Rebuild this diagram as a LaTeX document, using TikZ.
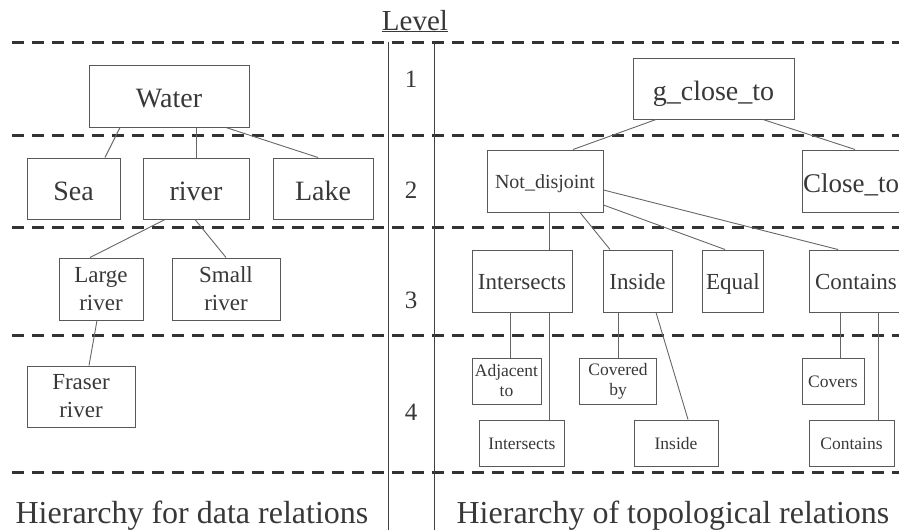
\documentclass[tikz,border=0pt]{standalone}
\usepackage{fontspec}
\setmainfont{Liberation Serif}
\usepackage{xcolor}
\usepackage{tikz}
\usetikzlibrary{positioning}

\begin{document}
\begin{tikzpicture}[x=1pt,y=-1pt,
  box2/.style={draw=boxline,line width=1pt,inner sep=0pt,align=center,text=ink},
  box/.style={box2,text depth=0pt},
  link/.style={draw=linkline,line width=.9pt},
  band/.style={draw=bandline,line width=3pt,dash pattern=on 12pt off 8pt},
  big/.style={font=\fontsize{28}{30}\selectfont,text height=23pt},
  mid/.style={font=\fontsize{23}{28}\selectfont,text height=16pt},
  tiny/.style={font=\fontsize{17.5}{20}\selectfont,text height=13pt}]
\colorlet{ink}{black!78} \colorlet{boxline}{black!65}
\colorlet{linkline}{black!60} \colorlet{bandline}{black!80}
\useasboundingbox (0,0) rectangle (899,530);
\clip (0,0) rectangle (899,530);
\foreach \y in {42,135,227,335,472}
\draw [band] (12,\y) -- (905,\y);
\draw [line width=1pt,draw=black!75] (388,42) -- (388,530) (434,42) -- (434,530);
\node [text=ink,font=\fontsize{29}{30}\selectfont,anchor=base] (level) at (415,30) {\underline{Level}};
\foreach \n/\y in {1/79,2/190,3/300,4/412}
\node [text=ink,font=\fontsize{25}{26}\selectfont] (lv\n) at (411,\y) {\n};
% data relations
\node [box,big,minimum width=160pt,minimum height=62pt] (water) at (169,96) {Water};
\node [box,big,minimum width=93pt,minimum height=61pt] (sea) at (73.5,188.5) {Sea};
\node [box,big,minimum width=106pt,minimum height=61pt] (river) at (196,188.5) {river};
\node [box,big,minimum width=100pt,minimum height=61pt] (lake) at (323,188.5) {Lake};
\node [box2,font=\fontsize{23}{28}\selectfont,minimum width=84pt,minimum height=62pt] (large) at (101,289) {Large\\river};
\node [box2,font=\fontsize{23}{28}\selectfont,minimum width=108pt,minimum height=62pt] (small) at (226,289) {Small\\river};
\node [box2,font=\fontsize{23}{28}\selectfont,minimum width=108pt,minimum height=61pt] (fraser) at (81,396.5) {Fraser\\river};
% topological relations
\node [box,big,minimum width=161pt,minimum height=61pt] (gclose) at (713.5,88.5) {g\_close\_to};
\node [box,font=\fontsize{20}{22}\selectfont,text height=14pt,minimum width=116pt,minimum height=62pt] (notdis) at (545,181) {Not\_disjoint};
\node [box,big,font=\fontsize{27}{30}\selectfont,minimum width=98pt,minimum height=62pt] (closeto) at (851,181) {Close\_to};
\node [box,mid,minimum width=100pt,minimum height=62pt] (inters) at (522,281) {Intersects};
\node [box,mid,minimum width=69pt,minimum height=62pt] (inside) at (637.5,281) {Inside};
\node [box,mid,minimum width=61pt,minimum height=62pt] (equal) at (733,281) {Equal};
\node [box,mid,minimum width=94pt,minimum height=62pt] (contains) at (856,281) {Contains};
\node [box2,font=\fontsize{17.5}{20}\selectfont,minimum width=69pt,minimum height=46pt] (adj) at (506.5,381) {Adjacent\\to};
\node [box2,font=\fontsize{17.5}{20}\selectfont,minimum width=77pt,minimum height=46pt] (covby) at (618,381) {Covered\\by};
\node [box,tiny,minimum width=62pt,minimum height=46pt] (covers) at (833,381) {Covers};
\node [box,tiny,minimum width=85pt,minimum height=46pt] (interss) at (522,443) {Intersects};
\node [box,tiny,minimum width=84pt,minimum height=46pt] (insides) at (676,443) {Inside};
\node [box,tiny,minimum width=85pt,minimum height=46pt] (containss) at (851.5,443) {Contains};
\foreach \a/\sa/\b/\sb in {water/-49/sea/31.5,water/27/river/0,water/57/lake/-5,
  river/-31/large/-11,river/-1/small/0,large/-4/fraser/8,
  gclose/-57.5/notdis/28,gclose/49.5/closeto/4,
  notdis/4/inters/27,notdis/35/inside/-27.5,
  inters/-12/adj/3.5,inters/27/interss/27,
  inside/-19.5/covby/0,inside/18.5/insides/12,
  contains/-16/covers/7,contains/22/containss/26.5}
\draw [link] ([xshift=\sa pt]\a.south) -- ([xshift=\sb pt]\b.north);
\draw [link] ([yshift=-24pt]notdis.east) -- ([xshift=-8pt]equal.north);
\draw [link] ([yshift=-9pt]notdis.east) -- ([xshift=-18pt]contains.north);
\node [text=ink,font=\fontsize{32}{34}\selectfont,anchor=base] (datahier) at (192,523) {Hierarchy for data relations};
\node [text=ink,font=\fontsize{32}{34}\selectfont,anchor=base] (topohier) at (673,523) {Hierarchy of topological relations};
\end{tikzpicture}
\end{document}
